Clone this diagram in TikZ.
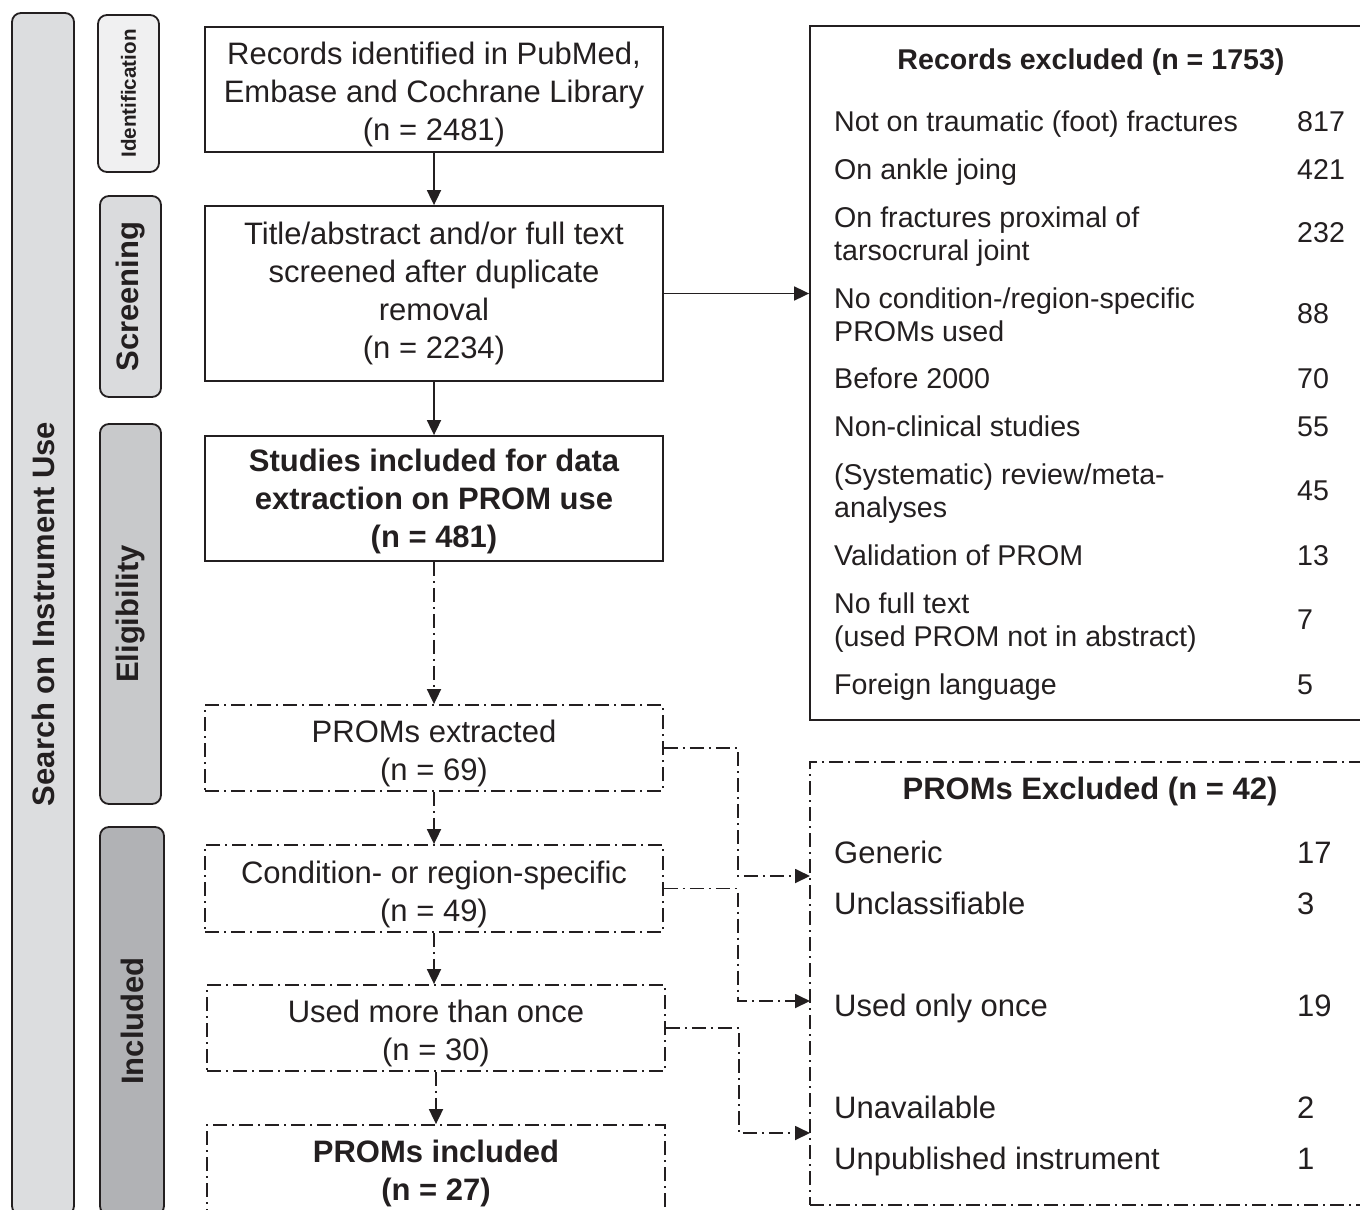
\documentclass[tikz,border=0pt]{standalone}
\usepackage{fontspec}
\setmainfont{Liberation Sans}
\usetikzlibrary{arrows.meta}
\definecolor{ink}{HTML}{231F20}
\definecolor{sideA}{HTML}{DCDDDF}
\definecolor{sideB}{HTML}{F0F0F1}
\definecolor{sideS}{HTML}{DADBDD}
\definecolor{sideC}{HTML}{C8C9CB}
\definecolor{sideD}{HTML}{B1B2B5}
\begin{document}
\begin{tikzpicture}[x=1pt,y=-1pt,
  every node/.style={text=ink, inner sep=0pt},
  ln/.style={line width=1.8pt, draw=ink},
  side/.style={ln, rounded corners=9pt, rotate=90, font=\bfseries\fontsize{31}{31}\selectfont},
  mainbox/.style={ln, minimum width=458pt},
  mtxt/.style={align=center, font=\fontsize{31}{38}\selectfont},
  btxt/.style={align=center, font=\bfseries\fontsize{31}{38}\selectfont},
  dd/.style={dash pattern=on 14pt off 5pt on 2pt off 5pt},
  arr/.style={ln, -{Triangle[length=15pt,width=14pt]}},
  item/.style={anchor=base west, align=left, font=\fontsize{28.6}{33}\selectfont},
  itemb/.style={anchor=base west, font=\fontsize{31}{33}\selectfont},
  ttl/.style={anchor=base, font=\bfseries\fontsize{28.6}{33}\selectfont},
  ttlb/.style={anchor=base, font=\bfseries\fontsize{31}{33}\selectfont}]
\useasboundingbox (0,0) rectangle (1360,1210);
\clip (0,0) rectangle (1360,1210);

% side bars
\node[side, fill=sideA, minimum width=1202pt, minimum height=62pt] (sAll) at (43,614) {Search on Instrument Use};
\node[side, fill=sideB, minimum width=157pt, minimum height=61pt, font=\bfseries\fontsize{20.6}{21}\selectfont] (sId) at (128.5,93.5) {Identification};
\node[side, fill=sideS, minimum width=201pt, minimum height=61pt] (sSc) at (130.5,296.5) {Screening};
\node[side, fill=sideC, minimum width=380pt, minimum height=61pt] (sEl) at (130.5,614) {Eligibility};
\node[side, fill=sideD, minimum width=388pt, minimum height=64pt] (sIn) at (132,1021) {Included};

% main column
\node[mainbox, minimum height=125pt] (b1) at (434,89.5) {};
\node[mtxt] (b1t) at (434,94.5) {Records identified in PubMed,\\Embase and Cochrane Library\\(n = 2481)};
\node[mainbox, minimum height=175pt] (b2) at (434,293.5) {};
\node[mtxt] (b2t) at (434,293) {Title/abstract and/or full text\\screened after duplicate\\removal\\(n = 2234)};
\node[mainbox, minimum height=125pt] (b3) at (434,498.5) {};
\node[btxt] (b3t) at (434,501) {Studies included for data\\extraction on PROM use\\(n = 481)};
\node[mainbox, dd, minimum height=86pt] (b4) at (434,748) {};
\node[mtxt] (b4t) at (434,753) {PROMs extracted\\(n = 69)};
\node[mainbox, dd, minimum height=87pt] (b5) at (434,888.5) {};
\node[mtxt] (b5t) at (434,894) {Condition- or region-specific\\(n = 49)};
\node[mainbox, dd, minimum height=86pt] (b6) at (436,1028) {};
\node[mtxt] (b6t) at (436,1033.5) {Used more than once\\(n = 30)};
\node[mainbox, dd, minimum height=92pt] (b7) at (436,1171) {};
\node[btxt] (b7t) at (436,1173.5) {PROMs included\\(n = 27)};

\draw[arr] (b1) -- (b2);
\draw[arr] (b2) -- (b3);
\draw[arr, dd] (b3) -- (b4);
\draw[arr, dd] (b4) -- (b5);
\draw[arr, dd] (b5.south) -- (b5.south |- b6.north);
\draw[arr, dd] (b6) -- (b7);

% right boxes
\node[ln, minimum width=562pt, minimum height=694pt] (r1) at (1091,373) {};
\node[ln, dd, minimum width=562pt, minimum height=443pt] (r2) at (1091,983.5) {};

\draw[arr] (b2.east) -- (b2.east -| r1.west);

\node[ttl] (r1t) at (1091,69) {Records excluded (n = 1753)};
\node[item] (e1) at (834,131) {Not on traumatic (foot) fractures};
\node[item] (n1) at (1297,131) {817};
\node[item] (e2) at (834,179) {On ankle joing};
\node[item] (n2) at (1297,179) {421};
\node[item] (e3) at (834,260) {On fractures proximal of\\tarsocrural joint};
\node[item] (n3) at (1297,242) {232};
\node[item] (e4) at (834,341) {No condition-/region-specific\\PROMs used};
\node[item] (n4) at (1297,323) {88};
\node[item] (e5) at (834,388) {Before 2000};
\node[item] (n5) at (1297,388) {70};
\node[item] (e6) at (834,436) {Non-clinical studies};
\node[item] (n6) at (1297,436) {55};
\node[item] (e7) at (834,517) {(Systematic) review/meta-\\analyses};
\node[item] (n7) at (1297,500) {45};
\node[item] (e8) at (834,565) {Validation of PROM};
\node[item] (n8) at (1297,565) {13};
\node[item] (e9) at (834,646) {No full text\\(used PROM not in abstract)};
\node[item] (n9) at (1297,629) {7};
\node[item] (e10) at (834,694) {Foreign language};
\node[item] (n10) at (1297,694) {5};

\node[ttlb] (r2t) at (1090,799) {PROMs Excluded (n = 42)};
\node[itemb] (p1) at (834,863) {Generic};
\node[itemb] (q1) at (1297,863) {17};
\node[itemb] (p2) at (834,914) {Unclassifiable};
\node[itemb] (q2) at (1297,914) {3};
\node[itemb] (p3) at (834,1016) {Used only once};
\node[itemb] (q3) at (1297,1016) {19};
\node[itemb] (p4) at (834,1118) {Unavailable};
\node[itemb] (q4) at (1297,1118) {2};
\node[itemb] (p5) at (834,1169) {Unpublished instrument};
\node[itemb] (q5) at (1297,1169) {1};

% dash-dot connectors to excluded PROMs
\coordinate (t1) at (810,876);
\coordinate (t2) at (810,1001);
\coordinate (t3) at (810,1133);
\draw[arr, dd] (b4.east) -- ++(74,0) |- (t1);
\draw[arr, dd] (b5.east) -- ++(74,0) |- (t2);
\draw[arr, dd] (b6.east) -- ++(73,0) |- (t3);
\end{tikzpicture}
\end{document}
